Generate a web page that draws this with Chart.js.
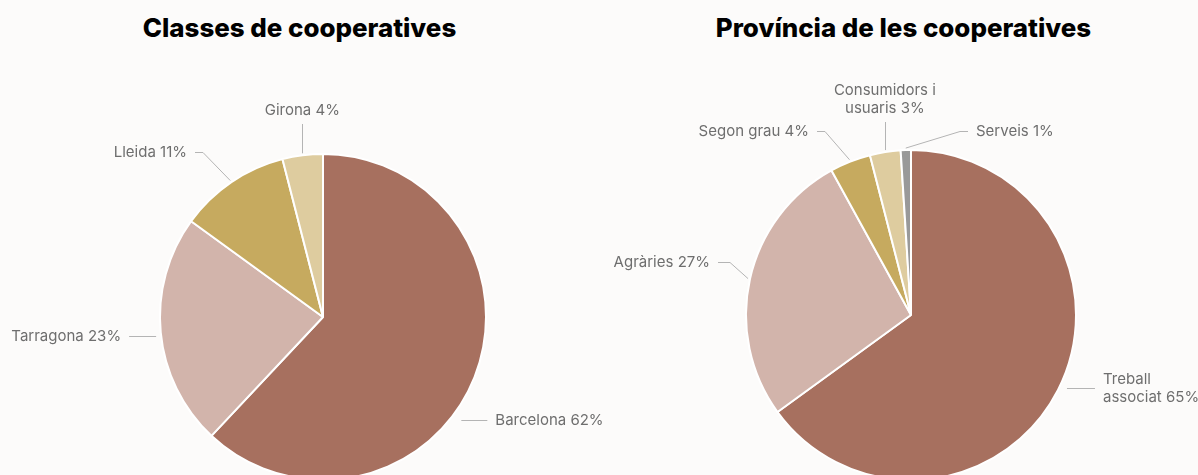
<!DOCTYPE html>
<html>
<head>
<meta charset="utf-8">
<script src="https://cdn.jsdelivr.net/npm/chart.js@4"></script>
<style>
  html, body { margin: 0; padding: 0; background: #fcfbfa; overflow: hidden; }
  body { width: 1198px; height: 475px; position: relative; font-family: Inter, 'Noto Sans', sans-serif; }
  .title { position: absolute; top: 11px; width: 599px; text-align: center; margin: 0;
           font-size: 25.9px; font-weight: 800; color: #000; letter-spacing: 0px; line-height: 34px; }
  .box { position: absolute; top: 0; height: 520px; }
</style>
</head>
<body>
<h2 class="title" style="left:0">Classes de cooperatives</h2>
<h2 class="title" style="left:604px">Província de les cooperatives</h2>
<div class="box" style="left:0; width:640px"><canvas id="left-pie"></canvas></div>
<div class="box" style="left:599px; width:599px"><canvas id="right-pie"></canvas></div>
<script>
// DATA

const provinceNames = ['Barcelona', 'Tarragona', 'Lleida', 'Girona'];
const provinceValues = [62, 23, 11, 4];

const classNames = ['Treball associat', 'Agràries', 'Segon grau', 'Consumidors i usuaris', 'Serveis'];
const classValues = [65, 27, 4, 3, 1];

// COLOURS

const provinceColors = ['#a7705f', '#d2b4ab', '#c6aa5f', '#decc9f'];
const classColors = ['#a7705f', '#d2b4ab', '#c6aa5f', '#decc9f', '#999999'];

// LABEL LAYOUT (offsets from the pie centre, px)

const provinceLabelLayout = [
	{ text: ['Barcelona 62%'], side: 'right', y: 103, gap: 12, len: 26 },
	{ text: ['Tarragona 23%'], side: 'left', y: 19, gap: 5, len: 27 },
	{ text: ['Lleida 11%'], side: 'left', y: -165, ex: -120, len: 8 },
	{ text: ['Girona 4%'], side: 'up', top: -193 },
];

const classLabelLayout = [
	{ text: ['Treball', 'associat 65%'], side: 'right', y: 73, gap: 8, len: 28 },
	{ text: ['Agràries 27%'], side: 'left', y: -53, ex: -181, len: 12 },
	{ text: ['Segon grau 4%'], side: 'left', y: -184, ex: -86, len: 8 },
	{ text: ['Consumidors i', 'usuaris 3%'], side: 'up', top: -193 },
	{ text: ['Serveis 1%'], side: 'right', y: -184, ex: 49, len: 8 },
];

// LABEL PLUGIN

function setLabelStyle(ctx) {
	ctx.font = '15px Inter, "Noto Sans", sans-serif';
	ctx.fillStyle = '#6e6e6e';
	ctx.strokeStyle = '#b4b4b4';
	ctx.lineWidth = 1;
	ctx.textBaseline = 'middle';
}

const outsideLabels = {
	id: 'outsideLabels',
	afterDraw(chart, args, opts) {
		const ctx = chart.ctx;
		const layout = opts.layout;
		const lineH = 18;

		chart.getDatasetMeta(0).data.forEach((arc, i) => {
			const l = layout[i];
			const { x, y, outerRadius, startAngle, endAngle } = arc.getProps(['x', 'y', 'outerRadius', 'startAngle', 'endAngle'], true);
			const mid = (startAngle + endAngle) / 2;
			const ax = x + Math.cos(mid) * (outerRadius + 2);
			const ay = y + Math.sin(mid) * (outerRadius + 2);

			ctx.save();
			setLabelStyle(ctx);
			ctx.beginPath();

			if (l.side === 'up') {
				const lx = Math.round(ax) + 0.5;
				ctx.moveTo(lx, ay);
				ctx.lineTo(lx, y + l.top);
				ctx.stroke();
				ctx.textAlign = 'center';
				const last = y + l.top - 14;
				l.text.forEach((t, k) => {
					ctx.fillText(t, ax, last - (l.text.length - 1 - k) * lineH);
				});
				ctx.restore();
				return;
			}

			const dir = l.side === 'right' ? 1 : -1;
			const ly = y + l.y;
			let ex;
			if (l.ex === undefined) {
				const edge = Math.sqrt(Math.max(outerRadius * outerRadius - l.y * l.y, 0));
				ex = x + dir * (edge + l.gap);
				ctx.moveTo(ex, ly + 0.5);
			} else {
				ex = x + l.ex;
				ctx.moveTo(ax, ay);
				ctx.lineTo(ex, ly + 0.5);
			}
			const endX = ex + dir * l.len;
			ctx.lineTo(endX, ly + 0.5);
			ctx.stroke();

			ctx.textAlign = dir > 0 ? 'left' : 'right';
			const tx = endX + dir * 8;
			const first = ly - (l.text.length - 1) * lineH / 2;
			l.text.forEach((t, k) => {
				ctx.fillText(t, tx, first + k * lineH);
			});
			ctx.restore();
		});
	}
};

// CHARTS

function makePie(id, w, names, values, colors, layout, padding) {
	const canvas = document.getElementById(id);
	canvas.width = w;
	canvas.height = 520;
	return new Chart(canvas, {
		type: 'pie',
		data: {
			labels: names,
			datasets: [{
				data: values,
				backgroundColor: colors,
				borderColor: '#ffffff',
				borderWidth: 2,
			}],
		},
		options: {
			responsive: false,
			animation: false,
			layout: { padding: padding },
			plugins: {
				legend: { display: false },
				tooltip: { enabled: false },
				outsideLabels: { layout: layout },
			},
		},
		plugins: [outsideLabels],
	});
}

makePie('left-pie', 640, provinceNames, provinceValues, provinceColors, provinceLabelLayout,
	{ left: 159, right: 153, top: 153, bottom: 39 });
makePie('right-pie', 599, classNames, classValues, classColors, classLabelLayout,
	{ left: 146, right: 121, top: 149, bottom: 39 });
</script>
</body>
</html>
